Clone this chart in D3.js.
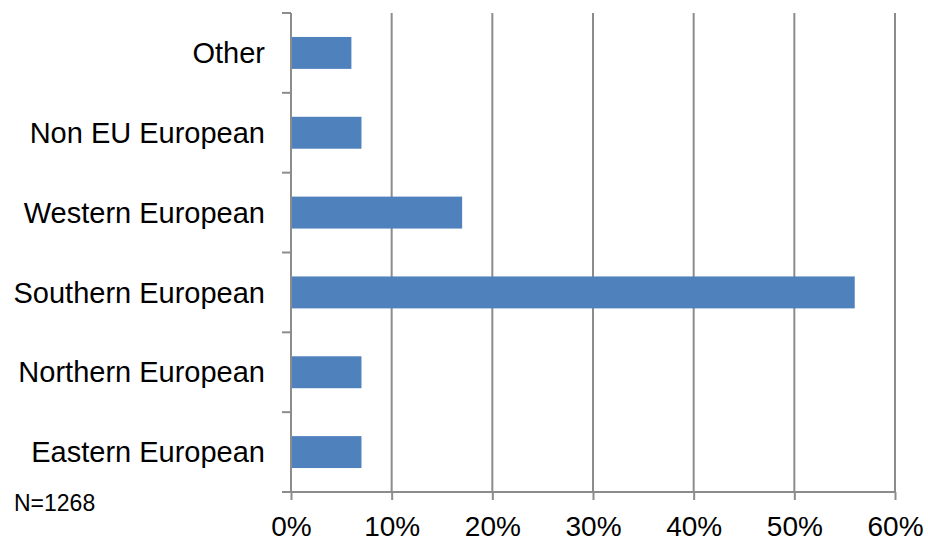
<!DOCTYPE html>
<html><head><meta charset="utf-8">
<script src="https://cdn.jsdelivr.net/npm/d3@7"></script>
<style>body{margin:0;background:#fff}svg{display:block}</style>
</head><body>
<svg id="c" width="928" height="542"></svg>
<script>
const categories = ["Other","Non EU European","Western European","Southern European","Northern European","Eastern European"];
const values = [6, 7, 17, 56, 7, 7];
const xTicks = [0,10,20,30,40,50,60];
const note = "N=1268";

const svg = d3.select("#c");
const m = {left:291, right:895, top:13, bottom:492};
const x = d3.scaleLinear().domain([0,60]).range([m.left, m.right]);
const y = d3.scaleBand().domain(categories).range([m.top, m.bottom]).paddingInner(0.6).paddingOuter(0.3);
const font = "Liberation Sans, Arial, sans-serif";
const grey = "#8c8c8c";

// gridlines
svg.append("g").selectAll("line").data(xTicks.slice(1)).join("line")
  .attr("x1", d=>x(d)).attr("x2", d=>x(d)).attr("y1", m.top).attr("y2", m.bottom)
  .attr("stroke", grey).attr("stroke-width", 2);

// bars
svg.append("g").selectAll("rect").data(categories).join("rect")
  .attr("x", x(0)).attr("y", d=>y(d))
  .attr("width", (d,i)=>x(values[i])-x(0)).attr("height", y.bandwidth())
  .attr("fill", "#4F81BD");

// x axis
const xAxis = svg.append("g").attr("transform", `translate(0,${m.bottom})`)
  .call(d3.axisBottom(x).tickValues(xTicks).tickFormat(d=>d+"%").tickSize(8).tickSizeOuter(0));
xAxis.select(".domain").attr("stroke", grey).attr("stroke-width", 2).attr("d", `M${m.left-9},0H${m.right}`);
xAxis.selectAll(".tick line").attr("stroke", grey).attr("stroke-width", 2);
xAxis.selectAll(".tick text").attr("font-family", font).attr("font-size", 28).attr("fill", "#000")
  .attr("y", 44).attr("dy", 0);

// y axis
const yTicks = d3.range(categories.length+1).map(i => m.top + i*(m.bottom-m.top)/categories.length);
const yAx = svg.append("g");
yAx.append("line").attr("x1", m.left).attr("x2", m.left).attr("y1", m.top).attr("y2", m.bottom)
  .attr("stroke", grey).attr("stroke-width", 2);
yAx.selectAll("line.t").data(yTicks).join("line").attr("class","t")
  .attr("x1", m.left-9).attr("x2", m.left).attr("y1", d=>d).attr("y2", d=>d)
  .attr("stroke", grey).attr("stroke-width", 2);
yAx.selectAll("text").data(categories).join("text")
  .attr("x", 265).attr("y", d=>y(d)+y.bandwidth()/2).attr("dy", "0.35em")
  .attr("text-anchor", "end").attr("font-family", font).attr("font-size", 29).attr("fill", "#000")
  .text(d=>d);

svg.append("text").attr("x", 14).attr("y", 511).attr("font-family", font).attr("font-size", 23)
  .attr("fill", "#000").text(note);
</script>
</body></html>
